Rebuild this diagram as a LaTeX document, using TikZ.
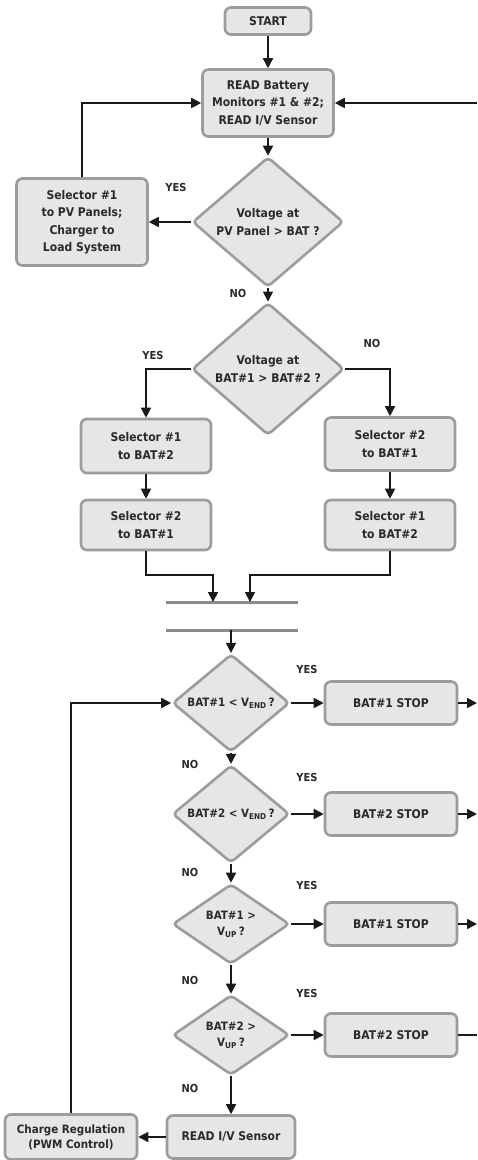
\documentclass[tikz,border=0pt]{standalone}
\usepackage{fontspec}
\setmainfont{DejaVu Sans Condensed}[BoldFont={DejaVu Sans Condensed Bold}]
\usetikzlibrary{shapes.geometric,arrows.meta}
\definecolor{boxfill}{HTML}{E6E6E6}
\definecolor{boxline}{HTML}{9C9C9C}
\definecolor{txt}{HTML}{2A2A2A}
\definecolor{ln}{HTML}{1A1A1A}
\tikzset{
  box/.style={draw=boxline, fill=boxfill, line width=2.6pt, rounded corners=6pt,
    align=center, inner sep=0pt, text=txt, font=\fontsize{12}{17.5}\selectfont\bfseries},
  dec/.style={diamond, draw=boxline, fill=boxfill, line width=2.6pt, rounded corners=4pt,
    align=center, inner sep=0pt, text=txt, font=\fontsize{12}{17.5}\selectfont\bfseries},
  arr/.style={draw=ln, line width=1.7pt, -{Triangle[length=10pt,width=10pt]}},
  con/.style={draw=ln, line width=1.7pt},
  lbl/.style={text=txt, font=\fontsize{11}{13}\selectfont\bfseries, inner sep=0pt},
  bar/.style={draw=boxline!90!black, line width=3pt}
}
\begin{document}
\begin{tikzpicture}[x=1pt,y=-1pt]
\useasboundingbox (0,0) rectangle (477,1160);
\fill[white] (0,0) rectangle (477,1160);
% nodes
\node[box, minimum width=86, minimum height=27] (start) at (268,21) {START};
\node[box, minimum width=131, minimum height=67] (read) at (268,103) {READ Battery\\Monitors \#1 \& \#2;\\READ I/V Sensor};
\node[dec, minimum width=151, minimum height=103] (d1) at (268,222) {Voltage at\\PV Panel > BAT ?};
\node[box, minimum width=131, minimum height=87] (selpv) at (82,222) {Selector \#1\\to PV Panels;\\Charger to\\Load System};
\node[dec, minimum width=152, minimum height=105] (d2) at (268,369) {Voltage at\\BAT\#1 > BAT\#2 ?};
\node[box, minimum width=130, minimum height=54] (l1) at (146,446) {Selector \#1\\to BAT\#2};
\node[box, minimum width=130, minimum height=50] (l2) at (146,525) {Selector \#2\\to BAT\#1};
\node[box, minimum width=130, minimum height=53] (r1) at (390,444) {Selector \#2\\to BAT\#1};
\node[box, minimum width=130, minimum height=50] (r2) at (390,525) {Selector \#1\\to BAT\#2};
\coordinate (b1l) at (166,602); \coordinate (b1r) at (298,602);
\coordinate (b2l) at (166,630); \coordinate (b2r) at (298,630);
\coordinate (m1) at (213,602); \coordinate (m2) at (250,602);
\coordinate (b2c) at (231,630);
\draw[bar] (b1l) -- (b1r);
\draw[bar] (b2l) -- (b2r);
\node[dec, minimum width=117, minimum height=80, font=\fontsize{11.5}{15}\selectfont\bfseries] (d3) at (231,703) {BAT\#1 < V\textsubscript{END}\,?};
\node[dec, minimum width=117, minimum height=80, font=\fontsize{11.5}{15}\selectfont\bfseries] (d4) at (231,814) {BAT\#2 < V\textsubscript{END}\,?};
\node[dec, minimum width=117, minimum height=80, font=\fontsize{11.5}{16}\selectfont\bfseries] (d5) at (231,924) {BAT\#1 >\\V\textsubscript{UP}\,?};
\node[dec, minimum width=117, minimum height=80, font=\fontsize{11.5}{16}\selectfont\bfseries] (d6) at (231,1035) {BAT\#2 >\\V\textsubscript{UP}\,?};
\node[box, minimum width=132, minimum height=43] (s1) at (391,703) {BAT\#1 STOP};
\node[box, minimum width=132, minimum height=43] (s2) at (391,814) {BAT\#2 STOP};
\node[box, minimum width=132, minimum height=43] (s3) at (391,924) {BAT\#1 STOP};
\node[box, minimum width=132, minimum height=43] (s4) at (391,1035) {BAT\#2 STOP};
\node[box, minimum width=128, minimum height=43] (riv) at (231,1137) {READ I/V Sensor};
\node[box, minimum width=132, minimum height=45, font=\fontsize{11.5}{15}\selectfont\bfseries] (cr) at (71,1137) {Charge Regulation\\(PWM Control)};
\coordinate (eR0) at (477,103);
\coordinate (eR1) at (477,703);
\coordinate (eR2) at (477,814);
\coordinate (eR3) at (477,924);
\coordinate (eR4) at (477,1035);
% connectors
\draw[arr] (start) -- (read);
\draw[arr] (read) -- (d1);
\draw[arr] (d1.west) -- (selpv.east);
\draw[arr] (selpv.north) |- (read.west);
\draw[arr] (eR0) -- (read.east);
\draw[arr] (d1.south) -- (d2.north);
\draw[arr] (d2.west) -| (l1.north);
\draw[arr] (d2.east) -| (r1.north);
\draw[arr] (l1) -- (l2);
\draw[arr] (r1) -- (r2);
\draw[arr] (l2.south) -- ++(0,24) -| (m1);
\draw[arr] (r2.south) -- ++(0,24) -| (m2);
\draw[arr] (b2c) -- (d3.north);
\draw[arr] (d3) -- (d4);
\draw[arr] (d4) -- (d5);
\draw[arr] (d5) -- (d6);
\draw[arr] (d6) -- (riv);
\draw[arr] (riv) -- (cr);
\draw[arr] (cr.north) |- (d3.west);
\draw[arr] (d3.east) -- (s1.west);
\draw[arr] (d4.east) -- (s2.west);
\draw[arr] (d5.east) -- (s3.west);
\draw[arr] (d6.east) -- (s4.west);
\draw[arr] (s1.east) -- (eR1);
\draw[arr] (s2.east) -- (eR2);
\draw[arr] (s3.east) -- (eR3);
\draw[con] (s4.east) -- (eR4);
% labels
\node[lbl] (y1) at (176,187) {YES};
\node[lbl] (n1) at (238,293) {NO};
\node[lbl] (y2) at (153,355) {YES};
\node[lbl] (n2) at (372,343) {NO};
\node[lbl] (y3) at (307,669) {YES};
\node[lbl] (n3) at (190,764) {NO};
\node[lbl] (y4) at (307,777) {YES};
\node[lbl] (n4) at (190,872) {NO};
\node[lbl] (y5) at (307,885) {YES};
\node[lbl] (n5) at (190,980) {NO};
\node[lbl] (y6) at (307,993) {YES};
\node[lbl] (n6) at (190,1088) {NO};
\end{tikzpicture}
\end{document}
